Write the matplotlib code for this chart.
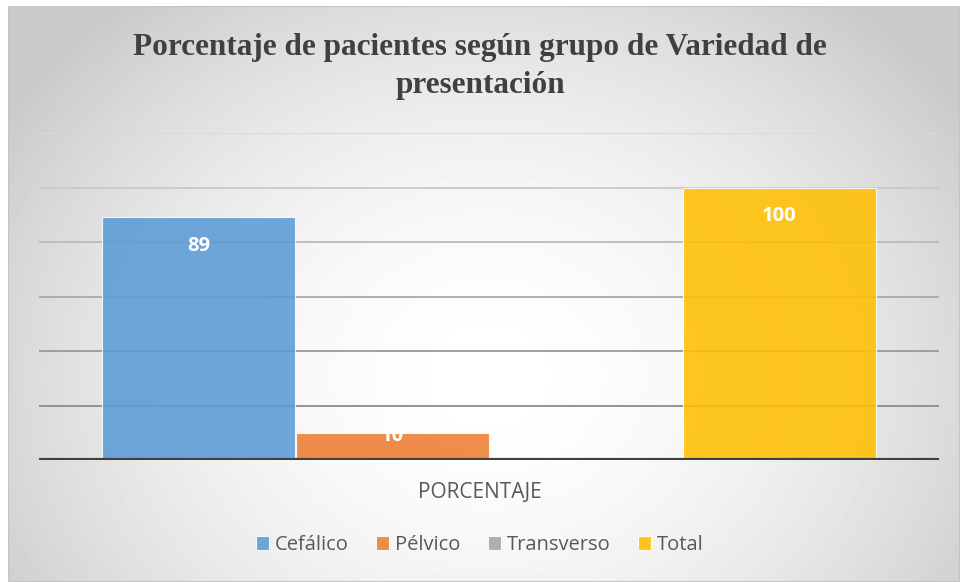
import numpy as np
import matplotlib
matplotlib.use("Agg")
import matplotlib.pyplot as plt
from matplotlib.patches import Rectangle

# data
category = "PORCENTAJE"
series = ["Cefálico", "Pélvico", "Transverso", "Total"]
values = [89, 10, 0, 100]
colors = ["#5B9BD5", "#ED7D31", "#A5A5A5", "#FFC000"]
yticks = [0, 20, 40, 60, 80, 100, 120]

W, H = 960, 582
fig = plt.figure(figsize=(W / 100, H / 100), dpi=100)
fig.patch.set_facecolor("white")

# background: radial light gradient inside a thin frame
bg = fig.add_axes([8 / W, 0, 1 - 8 / W, 1 - 6 / H])
bg.set_axis_off()
yy, xx = np.mgrid[0:576, 0:952]
r = np.sqrt(((xx - 480) / 560.0) ** 2 + ((yy - 370) / 470.0) ** 2)
shade = np.clip(1.0 - 0.2 * r ** 1.8, 0.79, 1.0)
bg.imshow(shade, cmap="gray", vmin=0, vmax=1, aspect="auto",
          extent=[0, 1, 0, 1], origin="upper", interpolation="bilinear")
bg.add_patch(Rectangle((0, 0), 1, 1, transform=bg.transAxes, fill=False,
                       edgecolor="#c4c4c4", linewidth=1.5))
bg.set_xlim(0, 1)
bg.set_ylim(0, 1)

ax = fig.add_axes([39 / W, (H - 460) / H, 900 / W, 327 / H])
ax.patch.set_alpha(0)
ax.set_xlim(-0.5, 0.5)
ax.set_ylim(0, 120)

# gridlines, darker toward the bottom
grid_cols = ["#8c8c8c", "#999999", "#a9a9a9", "#bababa", "#c9c9c9", "#d9d9d9"]
for t, c in zip(yticks[1:], grid_cols):
    ax.axhline(t, color=c, linewidth=1.3, zorder=1)
ax.axhline(0, color="#404040", linewidth=3, zorder=4)

n = len(series)
bw = 193 / 900
offsets = (np.arange(n) - (n - 1) / 2) * bw * 1.003
for i, (s, v, c) in enumerate(zip(series, values, colors)):
    ax.bar(offsets[i], v, width=bw, color=c, alpha=0.88, edgecolor="#ffffff",
           linewidth=0.8, zorder=3, label=s)
    if v > 0:
        ly = v - 10.5 if v > 20 else v - 1.3
        ax.text(offsets[i], ly, str(v), ha="center", va="center",
                color="white", fontsize=14.5, fontweight="bold",
                family="Open Sans", zorder=5)

for sp in ax.spines.values():
    sp.set_visible(False)
ax.set_xticks([])
ax.set_yticks([])

fig.text(0.5, 1 - 47 / H, "Porcentaje de pacientes según grupo de Variedad de",
         ha="center", va="center", fontsize=22.5, fontweight="bold",
         family="Liberation Serif", color="#404040")
fig.text(0.5, 1 - 86 / H, "presentación",
         ha="center", va="center", fontsize=22.5, fontweight="bold",
         family="Liberation Serif", color="#404040")

fig.text(0.5, 1 - 492 / H, category, ha="center", va="center",
         fontsize=15, family="Open Sans", color="#595959")

leg = fig.legend(loc="center", bbox_to_anchor=(0.5, 1 - 545 / H), ncol=4,
                 frameon=False, prop={"family": "Open Sans", "size": 14.5},
                 handlelength=0.65, handleheight=0.65, handletextpad=0.3,
                 columnspacing=1.35)
for t in leg.get_texts():
    t.set_color("#595959")

fig.savefig("out.png", dpi=100)
